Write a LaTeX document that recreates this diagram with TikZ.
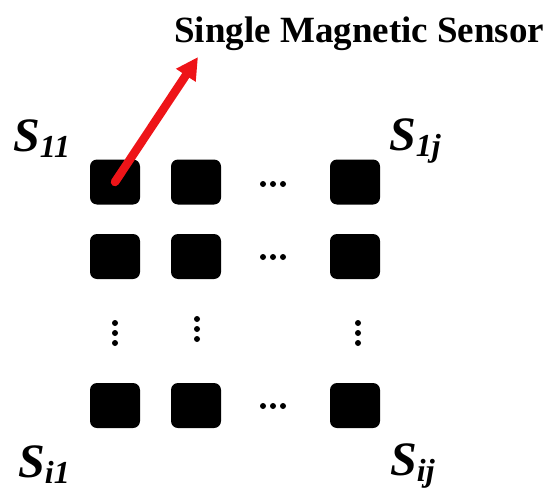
\documentclass[tikz,border=0pt]{standalone}
\usepackage{fontspec}
\setmainfont{Liberation Serif}
\usetikzlibrary{arrows.meta, positioning}
\definecolor{cred}{RGB}{238,20,24}
\newcommand{\sname}[1]{\textbf{\textit{S}}\raisebox{-6pt}{\fontsize{32}{32}\selectfont\textbf{\textit{#1}}}}
\tikzset{
  every picture/.style={x=1pt, y=-1pt},
  sensor/.style={fill=black, rounded corners=7pt, minimum width=50pt, minimum height=45pt, inner sep=0pt},
  dot/.style={circle, fill=black, minimum size=6pt, inner sep=0pt},
  pointer/.style={-{Triangle[length=22pt, width=22pt]}, draw=cred, line width=8.5pt, line cap=round},
  title/.style={font=\bfseries\fontsize{37}{40}\selectfont, inner sep=0pt, anchor=base west},
  idx/.style={font=\fontsize{48}{50}\selectfont, inner sep=0pt, anchor=base west},
}

\begin{document}
\begin{tikzpicture}
  \useasboundingbox (0,0) rectangle (548,492);
  % sensor array
  \foreach \r/\y in {1/182, 2/256.5, i/405.5}
    \foreach \c/\x in {1/115, 2/196, j/355}
      \node[sensor] (s\r\c) at (\x,\y) {};
  % ellipsis dots along the rows
  \foreach \r/\y in {1/184, 2/257, i/406}
    \foreach \k/\x in {a/263, b/273, c/283}
      \node[dot] (h\r\k) at (\x,\y) {};
  % ellipsis dots down the columns
  \foreach \c/\x/\y in {1/115/323, 2/197/319, j/358/323}
    \foreach \k/\d in {a/0, b/10, c/20}
      \node[dot] (v\c\k) at (\x,\y+\d) {};
  % corner labels
  \node[idx] (l11) at (13,151) {\sname{11}};
  \node[idx] (l1j) at (389,150) {\sname{1j}};
  \node[idx] (li1) at (18,477) {\sname{i1}};
  \node[idx] (lij) at (390,475) {\sname{ij}};
  % pointer to the single sensor
  \node[title] (title) at (174,43) {Single Magnetic Sensor};
  \coordinate (tip) at (198,57);
  \draw[pointer] (s11.center) -- (tip);
\end{tikzpicture}
\end{document}
